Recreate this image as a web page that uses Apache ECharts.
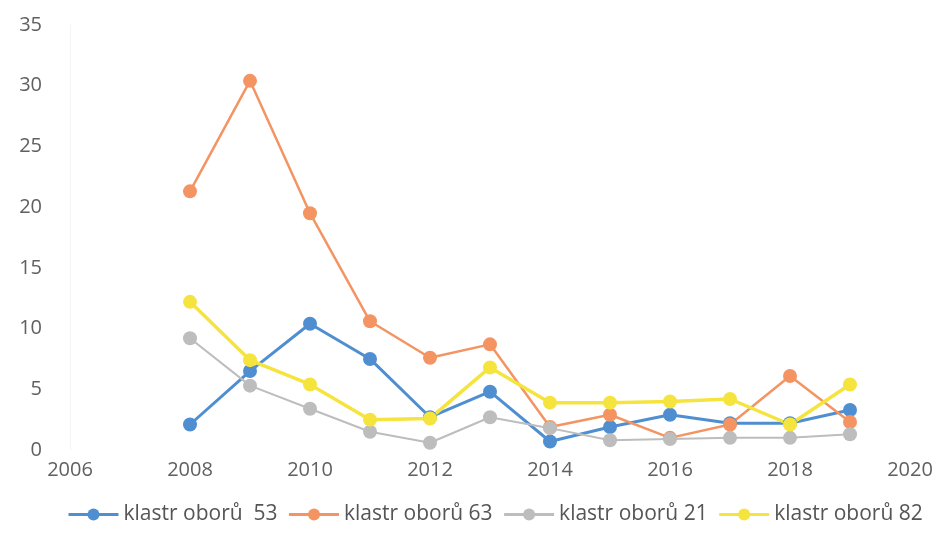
<!DOCTYPE html>
<html>
<head>
<meta charset="utf-8">
<script src="https://cdn.jsdelivr.net/npm/echarts@6/dist/echarts.min.js"></script>
<style>
  html, body { margin: 0; padding: 0; background: #fff; }
  #chart { width: 938px; height: 544px; }
</style>
</head>
<body>
<div id="chart"></div>
<script>
// roky a hodnoty
var years = [2008, 2009, 2010, 2011, 2012, 2013, 2014, 2015, 2016, 2017, 2018, 2019];
var names = ['klastr oborů  53', 'klastr oborů 63', 'klastr oborů 21', 'klastr oborů 82'];
var klastr53 = [2.1, 6.5, 10.4, 7.5, 2.7, 4.8, 0.7, 1.9, 2.9, 2.2, 2.2, 3.3];
var klastr63 = [21.3, 30.4, 19.5, 10.6, 7.6, 8.7, 1.9, 2.9, 1.0, 2.1, 6.1, 2.3];
var klastr21 = [9.2, 5.3, 3.4, 1.5, 0.6, 2.7, 1.8, 0.8, 0.9, 1.0, 1.0, 1.3];
var klastr82 = [12.2, 7.4, 5.4, 2.5, 2.6, 6.8, 3.9, 3.9, 4.0, 4.2, 2.1, 5.4];

var colors = ['#4f8fd1', '#f39462', '#bdbdbd', '#f6e43e'];
var widths = [3, 2.5, 2, 3.5];

function pairs(vals) {
    var out = [];
    for (var i = 0; i < years.length; i++) {
        out.push([years[i], vals[i]]);
    }
    return out;
}

var allVals = [klastr53, klastr63, klastr21, klastr82];
var series = [];
for (var k = 0; k < allVals.length; k++) {
    series.push({
        name: names[k],
        type: 'line',
        data: pairs(allVals[k]),
        symbol: 'circle',
        symbolSize: 14,
        color: colors[k],
        lineStyle: {width: widths[k], color: colors[k]},
        itemStyle: {color: colors[k]},
        emphasis: {disabled: true}
    });
}

var myChart = echarts.init(document.getElementById('chart'));
var option = {
    backgroundColor: '#ffffff',
    animation: false,
    textStyle: {fontFamily: 'Open Sans'},
    grid: {left: 70, right: 28, top: 25, bottom: 94},
    legend: {
        bottom: 14,
        left: 62,
        itemWidth: 50,
        itemHeight: 15,
        itemGap: 10,
        data: names,
        lineStyle: {width: 3},
        textStyle: {fontSize: 21, color: '#555', fontFamily: 'Open Sans'}
    },
    xAxis: {
        type: 'value',
        min: 2006,
        max: 2020,
        interval: 2,
        axisLine: {show: false},
        axisTick: {show: false},
        splitLine: {show: false},
        axisLabel: {
            fontSize: 20, color: '#606060', margin: 10,
            formatter: function (v) { return String(v); }
        }
    },
    yAxis: {
        type: 'value',
        min: 0,
        max: 35,
        interval: 5,
        axisLine: {show: true, lineStyle: {color: '#f4f4f4'}},
        axisTick: {show: false},
        splitLine: {show: false},
        axisLabel: {fontSize: 20, color: '#606060', margin: 28}
    },
    series: series
};
myChart.setOption(option);
</script>
</body>
</html>
